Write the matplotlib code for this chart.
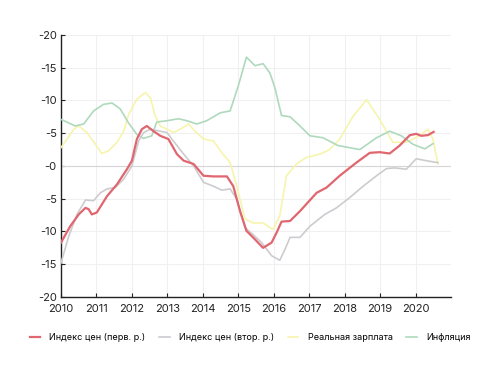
import numpy as np
import matplotlib
matplotlib.use("Agg")
import matplotlib.pyplot as plt
from matplotlib.ticker import FuncFormatter

# --- data ---
infl_x = [2010.0, 2010.4, 2010.64, 2010.92, 2011.2, 2011.44, 2011.67, 2011.9, 2012.14,
          2012.33, 2012.56, 2012.7, 2012.99, 2013.31, 2013.55, 2013.83, 2014.11, 2014.49,
          2014.77, 2015.0, 2015.23, 2015.47, 2015.70, 2015.89, 2016.03, 2016.22, 2016.46,
          2016.74, 2017.02, 2017.39, 2017.82, 2018.43, 2018.90, 2019.27, 2019.60, 2019.93,
          2020.26, 2020.49]
infl_y = [7.1, 6.1, 6.4, 8.4, 9.4, 9.6, 8.7, 6.6, 4.8,
          4.2, 4.6, 6.7, 6.9, 7.2, 6.9, 6.4, 6.9, 8.1,
          8.4, 12.2, 16.6, 15.3, 15.6, 14.2, 12.0, 7.7, 7.5,
          6.1, 4.6, 4.3, 3.1, 2.5, 4.3, 5.3, 4.6, 3.3,
          2.6, 3.4]

p1_x = [2010.0, 2010.26, 2010.5, 2010.69, 2010.78, 2010.87, 2011.01, 2011.3, 2011.58,
        2011.86, 2012.0, 2012.14, 2012.28, 2012.42, 2012.61, 2012.80, 2013.03, 2013.27,
        2013.46, 2013.74, 2014.02, 2014.30, 2014.68, 2014.86, 2015.05, 2015.23, 2015.47,
        2015.70, 2015.94, 2016.08, 2016.22, 2016.46, 2016.74, 2017.21, 2017.49, 2017.86,
        2018.33, 2018.71, 2018.99, 2019.27, 2019.55, 2019.84, 2020.02, 2020.16, 2020.35,
        2020.51]
p1_y = [-11.7, -9.2, -7.4, -6.4, -6.6, -7.4, -7.1, -4.6, -2.8,
        -0.5, 0.8, 4.1, 5.6, 6.1, 5.3, 4.6, 4.1, 1.8,
        0.8, 0.3, -1.5, -1.6, -1.6, -3.1, -6.9, -9.9, -11.2,
        -12.5, -11.7, -10.2, -8.5, -8.4, -6.9, -4.1, -3.3, -1.5,
        0.5, 2.0, 2.1, 1.9, 3.1, 4.7, 4.9, 4.6, 4.7,
        5.2]

p2_x = [2010.0, 2010.22, 2010.45, 2010.69, 2010.92, 2011.11, 2011.30, 2011.53, 2011.77,
        2012.0, 2012.19, 2012.33, 2012.52, 2012.80, 2012.99, 2013.17, 2013.46, 2013.74,
        2014.02, 2014.30, 2014.54, 2014.77, 2014.96, 2015.19, 2015.42, 2015.66, 2015.94,
        2016.17, 2016.32, 2016.46, 2016.74, 2017.02, 2017.44, 2017.77, 2018.15, 2018.52,
        2018.90, 2019.18, 2019.41, 2019.74, 2020.02, 2020.30, 2020.63]
p2_y = [-14.8, -10.7, -7.4, -5.2, -5.3, -4.1, -3.5, -3.3, -2.0,
        0.0, 3.8, 5.1, 5.6, 5.3, 5.1, 3.8, 1.8, 0.0,
        -2.5, -3.1, -3.7, -3.5, -5.1, -9.4, -10.5, -11.7, -13.7,
        -14.4, -12.7, -10.9, -10.9, -9.2, -7.4, -6.4, -4.8, -3.1,
        -1.5, -0.4, -0.3, -0.5, 1.1, 0.8, 0.5]

wage_x = [2010.0, 2010.17, 2010.36, 2010.5, 2010.73, 2010.97, 2011.15, 2011.34, 2011.58,
          2011.77, 2011.91, 2012.14, 2012.38, 2012.52, 2012.66, 2012.80, 2012.99, 2013.17,
          2013.36, 2013.60, 2013.78, 2014.02, 2014.30, 2014.54, 2014.77, 2014.96, 2015.19,
          2015.42, 2015.70, 2015.89, 2015.98, 2016.17, 2016.36, 2016.64, 2016.92, 2017.30,
          2017.58, 2017.86, 2018.24, 2018.62, 2018.99, 2019.36, 2019.74, 2020.11, 2020.35,
          2020.49, 2020.63]
wage_y = [2.8, 4.1, 5.6, 6.1, 5.1, 3.3, 1.9, 2.3, 3.6,
          5.3, 7.9, 10.2, 11.2, 10.4, 7.6, 6.1, 5.6, 5.1,
          5.6, 6.4, 5.3, 4.1, 3.8, 2.0, 0.5, -3.1, -8.1,
          -8.7, -8.7, -9.4, -9.7, -7.6, -1.5, 0.3, 1.3, 1.8,
          2.5, 4.1, 7.6, 10.1, 7.1, 3.6, 3.6, 4.6, 5.6,
          4.1, 0.3]

labels = ["Индекс цен (перв. р.)", "Индекс цен (втор. р.)", "Реальная зарплата", "Инфляция"]
years = list(range(2010, 2021))
yticks = list(range(-20, 21, 5))

plt.rcParams["font.family"] = ["Inter", "DejaVu Sans"]

fig = plt.figure(figsize=(5.0, 3.75), dpi=100)
ax = fig.add_axes([0.122, 0.208, 0.78, 0.699])

ax.plot(p1_x, p1_y, color="#e0666f", linewidth=1.6, label=labels[0], zorder=5)
ax.plot(p2_x, p2_y, color="#cdcbcf", linewidth=1.2, label=labels[1], zorder=4)
ax.plot(wage_x, wage_y, color="#f7f4ad", linewidth=1.2, label=labels[2], zorder=3)
ax.plot(infl_x, infl_y, color="#afd9bd", linewidth=1.2, label=labels[3], zorder=3)

ax.set_xlim(2010, 2021)
ax.set_ylim(-20, 20)
ax.set_xticks(years)
ax.set_yticks(yticks)
ax.yaxis.set_major_formatter(FuncFormatter(lambda v, p: "-%d" % abs(v)))
ax.grid(True, color="#f0f0f0", linewidth=0.8)
ax.set_axisbelow(True)
ax.axhline(0, color="#d6d6d6", linewidth=0.8, zorder=1)

for side in ("top", "right"):
    ax.spines[side].set_visible(False)
for side in ("left", "bottom"):
    ax.spines[side].set_color("#222222")
    ax.spines[side].set_linewidth(1.0)
ax.tick_params(direction="in", length=3, width=0.8, labelsize=8, colors="#222222")
ax.tick_params(axis="x", pad=5)
ax.tick_params(axis="y", pad=3)

fig.legend(loc="center", bbox_to_anchor=(0.5, 0.1), ncol=4, frameon=False,
           fontsize=6.5, handlelength=1.2, columnspacing=1.5, handletextpad=1.0)

fig.savefig("out.png", dpi=100, facecolor="white")
